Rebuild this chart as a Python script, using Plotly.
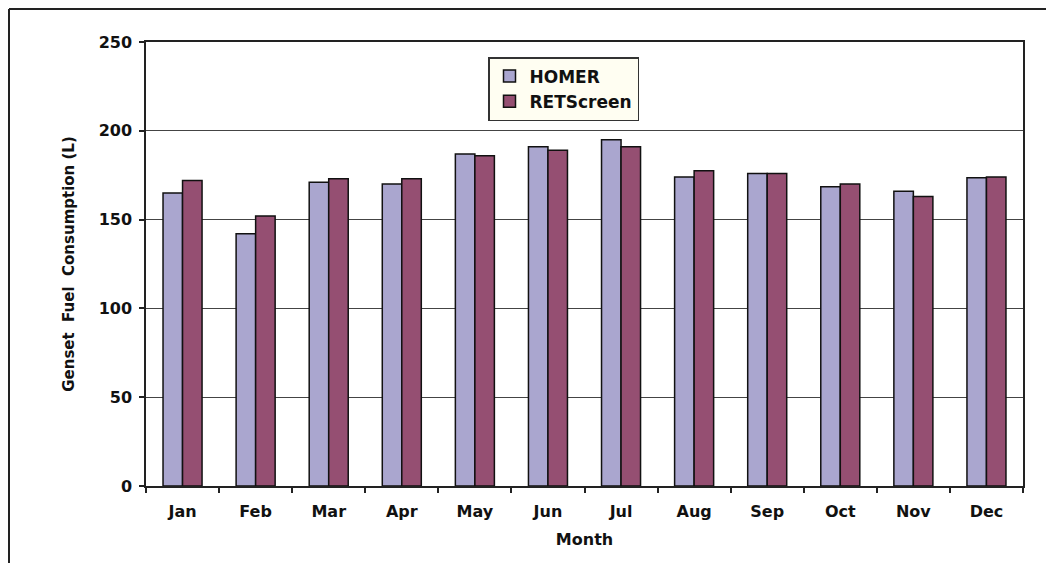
import plotly.graph_objects as go

months = ["Jan", "Feb", "Mar", "Apr", "May", "Jun", "Jul", "Aug", "Sep", "Oct", "Nov", "Dec"]
homer = [165, 142, 171, 170, 187, 191, 195, 174, 176, 168.5, 166, 173.5]
retscreen = [172, 152, 173, 173, 186, 189, 191, 177.5, 176, 170, 163, 174]

FONT = "DejaVu Sans"
OFF = 8  # page body margin offset
W, H = 1046, 555
L, T = 146 - OFF, 42 - OFF
R = W - (1023 - OFF)
B = H - (486 - OFF)
pw, ph = W - L - R, H - T - B

def px_x(p):
    return (p - OFF - L) / pw

def px_y(p):
    return (H - B - (p - OFF)) / ph

fig = go.Figure()
fig.add_trace(go.Bar(x=months, y=homer, name="HOMER",
                     marker=dict(color="rgb(170,166,207)", line=dict(color="#111", width=1.5))))
fig.add_trace(go.Bar(x=months, y=retscreen, name="RETScreen",
                     marker=dict(color="rgb(149,79,114)", line=dict(color="#111", width=1.5))))

fig.update_layout(
    width=W, height=H,
    margin=dict(l=L, r=R, t=T, b=B),
    paper_bgcolor="white", plot_bgcolor="white",
    barmode="group", bargap=0.466, bargroupgap=0,
    font=dict(family=FONT, size=16, color="#111", weight="bold"),
    legend=dict(x=px_x(488), y=px_y(57), xanchor="left", yanchor="top",
                bgcolor="#FFFEF2", bordercolor="#333", borderwidth=1.5,
                font=dict(family=FONT, size=17, weight="bold", color="#111"),
                tracegroupgap=2),
    showlegend=True,
)
fig.update_xaxes(
    type="category", showline=True, linecolor="#222", linewidth=1.5, mirror=True,
    ticks="outside", ticklen=5, tickcolor="#222", tickwidth=1.5, tickson="boundaries",
    ticklabelstandoff=10,
    tickfont=dict(family=FONT, size=16, weight="bold", color="#111"),
    title=dict(text="Month", font=dict(family=FONT, size=16, weight="bold", color="#111"), standoff=14),
    showgrid=False,
)
fig.update_yaxes(
    range=[0, 250], dtick=50, showline=True, linecolor="#222", linewidth=1.5, mirror=True,
    ticks="outside", ticklen=5, tickcolor="#222", tickwidth=1.5,
    ticklabelstandoff=4,
    tickfont=dict(family=FONT, size=16, weight="bold", color="#111"),
    showgrid=True, gridcolor="#444", gridwidth=1, zeroline=False,
    title=dict(text="Genset  Fuel  Consumption (L)", font=dict(family=FONT, size=15, weight="bold", color="#111"), standoff=20),
)

# outer frame (top and left edges visible)
fx = -L / pw + 1.0 / pw
fy = (H - B - 1.0) / ph
fig.add_shape(type="line", xref="paper", yref="paper",
              x0=fx, x1=(W - L) / pw, y0=fy, y1=fy,
              line=dict(color="#222", width=2))
fig.add_shape(type="line", xref="paper", yref="paper",
              x0=fx, x1=fx, y0=fy, y1=-B / ph,
              line=dict(color="#222", width=2))

fig.write_html("out.html")
